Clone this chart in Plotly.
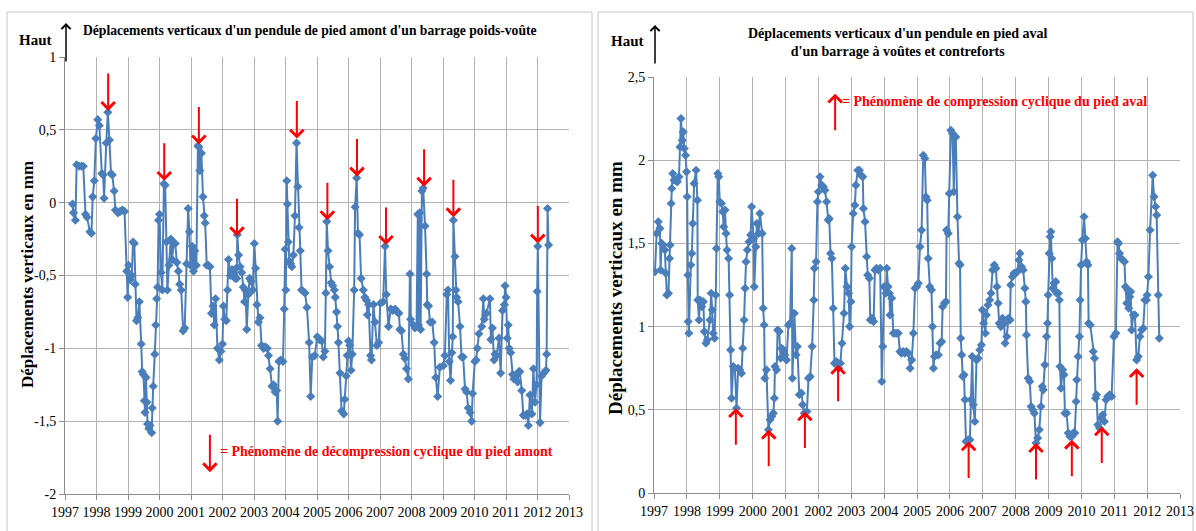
import plotly.graph_objects as go

# ---------------- data ----------------
left_years = [1997.24,1997.27,1997.33,1997.37,1997.45,1997.52,1997.58,1997.65,1997.70,1997.79,1997.84,1997.88,1997.93,1997.98,1998.04,1998.09,1998.17,1998.21,1998.24,1998.31,1998.36,1998.41,1998.46,1998.50,1998.56,1998.60,1998.68,1998.75,1998.82,1998.89,1998.96,1998.99,1999.02,1999.07,1999.12,1999.16,1999.20,1999.23,1999.27,1999.31,1999.36,1999.42,1999.45,1999.49,1999.52,1999.54,1999.57,1999.60,1999.62,1999.66,1999.70,1999.75,1999.77,1999.80,1999.85,1999.88,1999.91,1999.94,1999.97,2000.00,2000.05,2000.09,2000.14,2000.18,2000.22,2000.25,2000.30,2000.36,2000.40,2000.45,2000.50,2000.55,2000.60,2000.64,2000.69,2000.75,2000.80,2000.86,2000.91,2000.95,2000.98,2001.04,2001.08,2001.12,2001.17,2001.22,2001.25,2001.28,2001.33,2001.38,2001.42,2001.45,2001.50,2001.55,2001.60,2001.65,2001.70,2001.74,2001.78,2001.84,2001.90,2001.95,2002.00,2002.03,2002.07,2002.12,2002.16,2002.19,2002.25,2002.30,2002.35,2002.40,2002.43,2002.45,2002.47,2002.51,2002.56,2002.61,2002.66,2002.70,2002.73,2002.77,2002.82,2002.86,2002.91,2002.96,2003.01,2003.05,2003.09,2003.14,2003.19,2003.24,2003.30,2003.36,2003.42,2003.46,2003.51,2003.57,2003.62,2003.67,2003.72,2003.75,2003.79,2003.85,2003.92,2003.96,2003.99,2004.01,2004.04,2004.06,2004.09,2004.12,2004.16,2004.20,2004.25,2004.30,2004.35,2004.39,2004.43,2004.47,2004.51,2004.57,2004.62,2004.68,2004.75,2004.80,2004.85,2004.93,2005.01,2005.08,2005.15,2005.20,2005.25,2005.28,2005.31,2005.35,2005.40,2005.45,2005.50,2005.55,2005.58,2005.62,2005.65,2005.68,2005.73,2005.78,2005.85,2005.88,2005.93,2005.96,2006.00,2006.04,2006.08,2006.12,2006.18,2006.21,2006.26,2006.30,2006.35,2006.40,2006.47,2006.52,2006.57,2006.60,2006.64,2006.70,2006.73,2006.79,2006.84,2006.90,2006.96,2007.01,2007.10,2007.16,2007.20,2007.27,2007.34,2007.40,2007.48,2007.55,2007.60,2007.63,2007.68,2007.74,2007.79,2007.84,2007.90,2007.95,2007.97,2008.06,2008.11,2008.16,2008.20,2008.22,2008.26,2008.29,2008.33,2008.37,2008.43,2008.48,2008.50,2008.54,2008.59,2008.66,2008.72,2008.77,2008.83,2008.90,2009.01,2009.06,2009.12,2009.16,2009.20,2009.24,2009.28,2009.31,2009.33,2009.38,2009.41,2009.43,2009.48,2009.54,2009.59,2009.64,2009.70,2009.75,2009.80,2009.86,2009.91,2009.94,2010.01,2010.05,2010.09,2010.14,2010.23,2010.28,2010.31,2010.38,2010.49,2010.52,2010.57,2010.62,2010.65,2010.70,2010.78,2010.83,2010.89,2010.95,2010.97,2011.00,2011.04,2011.07,2011.10,2011.15,2011.21,2011.25,2011.32,2011.37,2011.41,2011.44,2011.50,2011.55,2011.62,2011.67,2011.71,2011.76,2011.82,2011.87,2011.92,2011.97,2011.99,2012.01,2012.08,2012.13,2012.20,2012.27,2012.29,2012.32,2012.35]
left_values = [-0.01,-0.07,-0.12,0.26,0.25,0.25,0.25,-0.08,-0.10,-0.20,-0.21,0.04,0.15,0.44,0.57,0.53,0.20,0.19,0.03,0.41,0.62,0.43,0.20,0.19,0.08,-0.05,-0.07,-0.06,-0.05,-0.06,-0.47,-0.65,-0.43,-0.53,-0.50,-0.27,-0.28,-0.56,-0.81,-0.79,-0.68,-0.97,-1.16,-1.18,-1.36,-1.44,-1.20,-1.37,-1.52,-1.55,-1.53,-1.58,-1.41,-1.26,-1.04,-0.84,-0.66,-0.58,-0.12,-0.08,-0.48,-0.60,0.13,0.12,-0.27,-0.60,-0.43,-0.25,-0.39,-0.28,-0.28,-0.41,-0.47,-0.56,-0.60,-0.88,-0.86,-0.42,-0.04,-0.20,-0.43,-0.30,-0.47,-0.33,-0.43,0.39,0.38,0.22,0.34,0.04,-0.09,-0.14,-0.43,-0.43,-0.44,-0.76,-0.71,-0.84,-0.66,-1.00,-1.08,-1.02,-0.97,-0.71,-0.80,-0.81,-0.60,-0.39,-0.50,-0.46,-0.49,-0.52,-0.45,-0.52,-0.22,-0.36,-0.44,-0.48,-0.58,-0.68,-0.60,-0.87,-0.63,-0.52,-0.54,-0.60,-0.28,-0.45,-0.70,-0.82,-0.79,-0.98,-1.00,-0.99,-1.00,-1.05,-1.14,-1.26,-1.25,-1.30,-1.29,-1.50,-1.09,-1.08,-1.09,-0.73,-0.32,-0.60,0.15,-0.01,-0.27,-0.40,-0.42,-0.44,-0.36,-0.09,0.41,0.11,-0.17,-0.33,-0.60,-0.61,-0.62,-0.72,-0.96,-1.33,-1.06,-1.05,-0.92,-0.94,-0.95,-1.06,-1.02,-0.62,-0.13,-0.33,-0.44,-0.55,-0.57,-0.60,-0.65,-0.75,-0.85,-0.96,-1.17,-1.43,-1.45,-1.35,-1.19,-1.05,-0.95,-0.98,-1.15,-1.04,-0.60,-0.03,0.17,-0.21,-0.22,-0.52,-0.60,-0.65,-0.67,-0.77,-0.70,-1.05,-1.08,-0.70,-0.82,-0.98,-0.96,-0.69,-0.68,-0.30,-0.63,-0.85,-0.73,-0.74,-0.73,-0.75,-0.76,-0.87,-0.88,-1.04,-1.07,-1.14,-1.21,-0.49,-0.80,-0.84,-0.86,-0.85,-0.08,-0.84,-0.07,-0.87,0.08,0.10,-0.16,-0.49,-0.70,-0.71,-0.82,-0.82,-0.96,-1.20,-1.33,-1.13,-1.12,-1.05,-0.63,-0.60,-1.09,-1.22,-1.03,-0.92,-0.12,-0.37,-0.60,-0.65,-0.68,-0.85,-1.06,-1.06,-1.28,-1.30,-1.41,-1.44,-1.50,-1.31,-1.09,-1.08,-1.00,-0.90,-0.85,-0.66,-0.80,-0.76,-0.66,-0.94,-0.86,-1.08,-1.04,-1.05,-0.93,-1.17,-0.74,-0.70,-0.57,-0.65,-0.93,-0.84,-1.00,-1.03,-1.18,-1.21,-1.18,-1.23,-1.16,-1.16,-1.29,-1.46,-1.46,-1.45,-1.53,-1.32,-1.45,-1.14,-1.37,-1.25,-0.61,-0.30,-1.51,-1.19,-1.17,-1.15,-1.04,-0.04,-0.29]

right_years = [1997.03,1997.08,1997.13,1997.18,1997.20,1997.23,1997.28,1997.33,1997.36,1997.39,1997.44,1997.47,1997.49,1997.52,1997.54,1997.57,1997.61,1997.67,1997.71,1997.76,1997.79,1997.82,1997.86,1997.89,1997.92,1997.96,1997.99,1998.01,1998.03,1998.04,1998.06,1998.12,1998.15,1998.18,1998.22,1998.28,1998.32,1998.33,1998.37,1998.40,1998.45,1998.50,1998.53,1998.58,1998.62,1998.70,1998.74,1998.77,1998.80,1998.84,1998.88,1998.90,1998.94,1998.97,1999.00,1999.05,1999.09,1999.12,1999.16,1999.19,1999.22,1999.27,1999.30,1999.33,1999.36,1999.41,1999.46,1999.51,1999.56,1999.61,1999.66,1999.70,1999.74,1999.77,1999.80,1999.84,1999.89,1999.94,1999.97,2000.03,2000.05,2000.10,2000.13,2000.18,2000.22,2000.29,2000.32,2000.35,2000.37,2000.42,2000.48,2000.53,2000.58,2000.63,2000.66,2000.68,2000.73,2000.76,2000.81,2000.85,2000.88,2000.93,2000.98,2001.03,2001.09,2001.14,2001.19,2001.21,2001.27,2001.32,2001.36,2001.42,2001.48,2001.52,2001.57,2001.65,2001.70,2001.75,2001.81,2001.86,2001.88,2001.93,2001.97,2002.00,2002.05,2002.10,2002.15,2002.20,2002.25,2002.30,2002.33,2002.37,2002.41,2002.45,2002.49,2002.55,2002.62,2002.67,2002.72,2002.78,2002.82,2002.87,2002.92,2002.95,2002.99,2003.01,2003.06,2003.11,2003.14,2003.20,2003.25,2003.30,2003.35,2003.37,2003.42,2003.47,2003.50,2003.55,2003.58,2003.63,2003.68,2003.72,2003.77,2003.82,2003.88,2003.93,2003.96,2004.00,2004.05,2004.08,2004.12,2004.16,2004.18,2004.23,2004.28,2004.33,2004.38,2004.43,2004.48,2004.53,2004.58,2004.63,2004.68,2004.74,2004.79,2004.84,2004.89,2004.94,2004.99,2005.04,2005.09,2005.14,2005.19,2005.24,2005.27,2005.31,2005.34,2005.39,2005.44,2005.47,2005.50,2005.53,2005.58,2005.65,2005.70,2005.75,2005.78,2005.83,2005.88,2005.90,2005.95,2005.98,2006.03,2006.08,2006.12,2006.15,2006.18,2006.23,2006.28,2006.31,2006.33,2006.36,2006.39,2006.43,2006.46,2006.49,2006.56,2006.61,2006.64,2006.68,2006.71,2006.76,2006.81,2006.86,2006.91,2006.96,2006.99,2007.03,2007.08,2007.11,2007.16,2007.21,2007.25,2007.30,2007.35,2007.40,2007.43,2007.47,2007.50,2007.55,2007.60,2007.65,2007.68,2007.73,2007.78,2007.83,2007.85,2007.90,2007.95,2008.00,2008.05,2008.10,2008.13,2008.18,2008.23,2008.28,2008.31,2008.33,2008.38,2008.43,2008.47,2008.52,2008.57,2008.62,2008.67,2008.72,2008.77,2008.81,2008.84,2008.89,2008.94,2008.97,2008.99,2009.02,2009.05,2009.07,2009.10,2009.13,2009.17,2009.22,2009.25,2009.30,2009.33,2009.35,2009.38,2009.43,2009.47,2009.50,2009.55,2009.60,2009.65,2009.71,2009.75,2009.80,2009.84,2009.86,2009.90,2009.94,2009.96,2009.99,2010.03,2010.08,2010.12,2010.16,2010.20,2010.22,2010.27,2010.36,2010.40,2010.43,2010.46,2010.50,2010.55,2010.60,2010.65,2010.70,2010.75,2010.80,2010.86,2010.92,2010.99,2011.05,2011.10,2011.13,2011.16,2011.21,2011.26,2011.31,2011.34,2011.38,2011.41,2011.44,2011.47,2011.50,2011.53,2011.58,2011.63,2011.68,2011.73,2011.78,2011.83,2011.88,2011.93,2011.98,2012.00,2012.04,2012.09,2012.17,2012.21,2012.26,2012.29,2012.34,2012.37]
right_values = [1.33,1.56,1.63,1.59,1.34,1.50,1.49,1.46,1.32,1.19,1.20,1.41,1.49,1.74,1.83,1.92,1.88,1.88,1.87,1.90,2.08,2.25,2.12,2.17,2.07,2.03,1.93,1.78,1.31,1.03,0.96,1.37,1.44,1.62,1.86,1.94,1.76,1.16,1.04,1.16,1.12,1.15,0.97,0.90,0.92,1.04,1.20,1.10,0.96,0.93,1.19,1.47,1.92,1.90,1.75,1.74,1.69,1.60,1.70,1.56,1.46,1.41,1.19,0.86,0.57,0.76,0.75,0.51,0.75,0.74,0.72,0.87,1.04,1.23,1.39,1.46,1.51,1.55,1.72,1.53,1.24,1.48,1.62,1.56,1.68,1.56,1.11,1.01,0.69,0.74,0.38,0.44,0.46,0.48,0.57,0.76,0.74,0.98,0.97,0.81,0.87,0.86,0.83,0.80,1.01,1.02,1.47,0.69,1.08,0.83,0.88,0.59,0.60,0.53,0.48,0.49,0.69,0.70,0.88,1.16,1.35,1.39,1.75,1.81,1.90,1.85,1.84,1.82,1.75,1.64,1.65,1.44,1.41,1.11,0.78,0.79,0.75,0.78,0.90,1.08,1.35,1.24,1.20,1.00,1.15,1.48,1.68,1.73,1.85,1.94,1.94,1.91,1.90,1.71,1.63,1.42,1.31,1.29,1.04,1.05,1.03,1.34,1.35,1.34,1.35,0.67,0.88,1.24,1.20,1.35,1.24,1.20,1.07,1.17,0.96,0.96,0.96,0.96,0.85,0.84,0.85,0.84,0.85,0.84,0.75,0.80,0.96,1.23,1.24,1.26,1.48,1.58,2.03,2.01,1.78,1.76,1.41,1.24,1.22,1.00,0.75,0.82,0.83,0.83,0.90,0.91,1.12,1.14,1.15,1.58,1.56,1.80,2.18,2.16,1.81,2.14,2.14,1.66,1.38,1.37,0.93,0.83,0.70,0.71,0.56,0.31,0.32,0.32,0.56,0.82,0.53,0.43,0.80,0.81,0.86,0.89,1.10,1.02,0.96,1.07,1.13,1.16,1.20,1.34,1.37,1.35,1.24,1.14,1.02,1.00,1.05,1.02,0.90,0.94,1.05,1.04,1.25,1.30,1.32,1.32,1.33,1.40,1.44,1.36,1.34,1.23,1.15,0.95,0.69,0.67,0.52,0.50,0.48,0.30,0.33,0.38,0.52,0.64,0.62,0.77,0.94,1.02,1.19,1.44,1.54,1.57,1.41,1.23,1.26,1.27,1.20,1.20,1.16,0.76,0.63,0.74,0.71,0.48,0.48,0.36,0.34,0.34,0.36,0.36,0.55,0.68,0.82,0.94,1.16,1.37,1.52,1.66,1.53,1.39,1.37,1.02,1.01,0.85,0.81,0.57,0.59,0.41,0.39,0.45,0.47,0.43,0.56,0.58,0.59,0.58,0.94,0.96,1.51,1.50,1.44,1.41,1.40,1.39,1.24,1.14,1.22,1.11,1.18,1.21,0.98,1.07,1.07,0.80,0.82,0.94,0.98,0.99,1.16,1.16,1.19,1.30,1.58,1.91,1.78,1.72,1.67,1.19,0.93]

# red arrow tips (data coordinates)
left_arrow_years = [1998.37, 2000.15, 2001.25, 2002.46, 2004.36, 2005.33, 2006.27, 2007.19, 2008.40, 2009.33, 2012.01]
left_arrow_values = [0.63, 0.15, 0.40, -0.23, 0.44, -0.12, 0.18, -0.29, 0.11, -0.10, -0.28]
right_arrow_years = [1999.49, 2000.49, 2001.59, 2002.60, 2006.57, 2008.62, 2009.71, 2010.62, 2011.68]
right_arrow_values = [0.51, 0.38, 0.49, 0.77, 0.31, 0.30, 0.32, 0.40, 0.75]

year_ticks = list(range(1997, 2014))
year_labels = [str(y) for y in year_ticks]
left_yticks = [1, 0.5, 0, -0.5, -1, -1.5, -2]
left_ylabels = ["1", "0,5", "0", "-0,5", "-1", "-1,5", "-2"]
right_yticks = [0, 0.5, 1, 1.5, 2, 2.5]
right_ylabels = ["0", "0,5", "1", "1,5", "2", "2,5"]

left_title = "Déplacements verticaux d'un pendule de pied amont d'un barrage poids-voûte"
right_title = "Déplacements verticaux d'un pendule en pied aval<br>d'un barrage à voûtes et contreforts"
y_title = "Déplacements verticaux en mm"
left_legend = "= Phénomène de décompression cyclique du pied amont"
right_legend = "= Phénomène de compression cyclique du pied aval"

# ---------------- figure ----------------
W, H = 1196, 531
SERIF = "Liberation Serif"
BLUE = "#4a7ebb"
GRID = "#b3b3b3"

def px(x):
    return x / W

def py(y):
    return 1 - y / H

fig = go.Figure()
fig.add_trace(go.Scatter(x=left_years, y=left_values, mode="lines+markers",
                         line=dict(color=BLUE, width=2),
                         marker=dict(symbol="diamond", size=7, color=BLUE),
                         xaxis="x", yaxis="y", showlegend=False))
fig.add_trace(go.Scatter(x=right_years, y=right_values, mode="lines+markers",
                         line=dict(color=BLUE, width=2),
                         marker=dict(symbol="diamond", size=7, color=BLUE),
                         xaxis="x2", yaxis="y2", showlegend=False))

axis_common = dict(showgrid=True, gridcolor=GRID, gridwidth=1, zeroline=False,
                   showline=True, linecolor="#8c8c8c", linewidth=1, automargin=False,
                   ticks="outside", ticklen=5, tickcolor="#8c8c8c",
                   tickfont=dict(family=SERIF, size=14, color="#000"))

fig.update_layout(
    template="none",
    width=W, height=H, margin=dict(l=0, r=0, t=0, b=0, pad=0, autoexpand=False),
    paper_bgcolor="white", plot_bgcolor="white",
    font=dict(family=SERIF),
    xaxis=dict(domain=[px(65), px(569)], range=[1997, 2013], anchor="y",
               tickmode="array", tickvals=year_ticks, ticktext=year_labels, **axis_common),
    yaxis=dict(domain=[py(494), py(57)], range=[-2, 1], anchor="x",
               tickmode="array", tickvals=left_yticks, ticktext=left_ylabels, **axis_common),
    xaxis2=dict(domain=[px(654), px(1180)], range=[1997, 2013], anchor="y2",
                tickmode="array", tickvals=year_ticks, ticktext=year_labels, **axis_common),
    yaxis2=dict(domain=[py(493), py(77)], range=[0, 2.5], anchor="x2",
                tickmode="array", tickvals=right_yticks, ticktext=right_ylabels, **axis_common),
)

# panel frames
fig.add_shape(type="rect", xref="paper", yref="paper", x0=px(7), x1=px(592), y0=-0.02, y1=py(12),
              line=dict(color="#c6c6c6", width=1), layer="below")
fig.add_shape(type="rect", xref="paper", yref="paper", x0=px(598), x1=px(1193), y0=-0.02, y1=py(12),
              line=dict(color="#c6c6c6", width=1), layer="below")

ann = []

def text_ann(text, x, y, size, color="#000", angle=0, xanchor="center", xref="paper", yref="paper"):
    ann.append(dict(text=text, xref=xref, yref=yref, x=x, y=y, showarrow=False,
                    textangle=angle, xanchor=xanchor, yanchor="middle",
                    font=dict(family=SERIF, size=size, color=color)))

# titles
text_ann("<b>" + left_title + "</b>", px(310), py(30), 13.6)
text_ann("<b>" + right_title + "</b>", px(898), py(43), 14)
# Haut labels
text_ann("<b>Haut</b>", px(35), py(40), 15)
text_ann("<b>Haut</b>", px(627), py(41), 15)
# y-axis titles
text_ann("<b>" + y_title + "</b>", px(27), py(275), 17, angle=-90)
text_ann("<b>" + y_title + "</b>", px(615), py(288), 19, angle=-90)

# Haut arrows
ann.append(dict(text="", xref="paper", yref="paper", x=px(66), y=py(23), ax=0, ay=40,
                showarrow=True, arrowhead=4, arrowsize=1.2, arrowwidth=1.5, arrowcolor="#000"))
ann.append(dict(text="", xref="paper", yref="paper", x=px(655), y=py(25), ax=0, ay=40,
                showarrow=True, arrowhead=4, arrowsize=1.2, arrowwidth=1.5, arrowcolor="#000"))

# red arrows
for xv, yv in zip(left_arrow_years, left_arrow_values):
    ann.append(dict(text="", xref="x", yref="y", x=xv, y=yv, ax=0, ay=-39, showarrow=True,
                    arrowhead=4, arrowsize=1.3, arrowwidth=2, arrowcolor="#ff0000"))
for xv, yv in zip(right_arrow_years, right_arrow_values):
    ann.append(dict(text="", xref="x2", yref="y2", x=xv, y=yv, ax=0, ay=38, showarrow=True,
                    arrowhead=4, arrowsize=1.3, arrowwidth=2, arrowcolor="#ff0000"))

# legend arrows and texts
ann.append(dict(text="", xref="x", yref="y", x=2001.60, y=-1.85, ax=0, ay=-39, showarrow=True,
                arrowhead=4, arrowsize=1.3, arrowwidth=2, arrowcolor="#ff0000"))
text_ann("<b>" + left_legend + "</b>", 2001.86, -1.705, 14, color="#ff0000", xanchor="left", xref="x", yref="y")
ann.append(dict(text="", xref="x2", yref="y2", x=2002.51, y=2.40, ax=0, ay=38, showarrow=True,
                arrowhead=4, arrowsize=1.3, arrowwidth=2, arrowcolor="#ff0000"))
text_ann("<b>" + right_legend + "</b>", 2002.66, 2.35, 14, color="#ff0000", xanchor="left", xref="x2", yref="y2")

fig.update_layout(annotations=ann)
fig.write_html("out.html", config={"displayModeBar": False},
               post_script="document.body.style.margin='0';document.body.style.overflow='hidden';")
